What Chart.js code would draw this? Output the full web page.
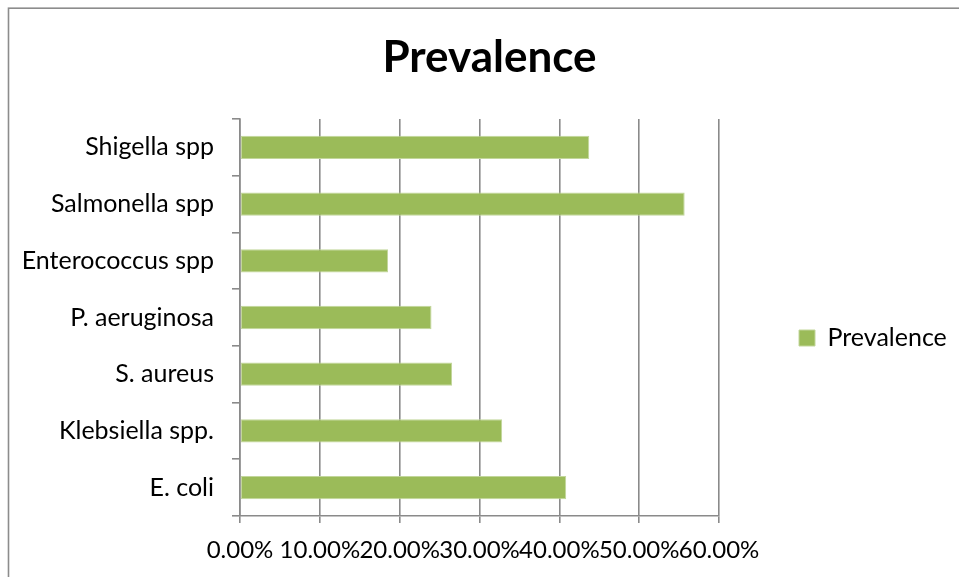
<!DOCTYPE html>
<html>
<head>
<meta charset="utf-8">
<script src="https://cdn.jsdelivr.net/npm/chart.js@4/dist/chart.umd.min.js"></script>
<style>
  html, body { margin: 0; padding: 0; background: #ffffff; overflow: hidden; }
  #chart { display: block; }
</style>
</head>
<body>
<canvas id="chart" width="959" height="577"></canvas>
<script>
// Organisms, listed top to bottom
const categories = [
  'Shigella spp',
  'Salmonella spp',
  'Enterococcus spp',
  'P. aeruginosa',
  'S. aureus',
  'Klebsiella spp.',
  'E. coli'
];

// Prevalence in percent
const prevalence = [43.75, 55.70, 18.55, 23.99, 26.57, 32.84, 40.86];

// Value axis ticks (percent)
const xTicks = [0, 10, 20, 30, 40, 50, 60];

const seriesName = 'Prevalence';
const titleText = 'Prevalence';

const FONT = 'Lato, "Noto Sans", sans-serif';
const GRID = '#8a8a8a';
const BAR = '#9bbb59';

// White page with the frame lines along the top and left edges
const framePlugin = {
  id: 'frame',
  beforeDraw(chart) {
    const ctx = chart.ctx;
    ctx.save();
    ctx.fillStyle = '#ffffff';
    ctx.fillRect(0, 0, chart.width, chart.height);
    ctx.strokeStyle = '#8c8c8c';
    ctx.lineWidth = 1.6;
    ctx.strokeRect(8.5, 8.2, chart.width + 20, chart.height + 20);
    ctx.restore();
  }
};

const chart = new Chart(document.getElementById('chart'), {
  type: 'bar',
  data: {
    labels: categories,
    datasets: [{
      label: seriesName,
      data: prevalence,
      backgroundColor: BAR,
      borderColor: '#c2d69b',
      borderWidth: 1,
      borderSkipped: false,
      barPercentage: 0.41,
      categoryPercentage: 1.0
    }]
  },
  options: {
    indexAxis: 'y',
    responsive: false,
    animation: false,
    devicePixelRatio: 1,
    layout: { padding: { left: 20, right: 0, top: 0, bottom: 0 } },
    scales: {
      x: {
        min: 0,
        max: 60,
        afterBuildTicks(scale) {
          scale.ticks = xTicks.map(v => ({ value: v }));
        },
        afterFit(scale) { scale.height = 61; },
        ticks: {
          autoSkip: false,
          maxRotation: 0,
          minRotation: 0,
          padding: 13,
          color: '#000000',
          font: { family: FONT, size: 24 },
          callback: v => Number(v).toFixed(2) + '%'
        },
        grid: {
          color: GRID,
          lineWidth: 1.6,
          drawTicks: true,
          tickLength: 7,
          tickColor: GRID
        },
        border: { display: true, color: GRID, width: 1.6 }
      },
      y: {
        afterFit(scale) { scale.width = 220; },
        ticks: {
          padding: 18,
          color: '#000000',
          font: { family: FONT, size: 25 }
        },
        grid: {
          display: true,
          drawOnChartArea: false,
          drawTicks: true,
          tickLength: 8,
          offset: true,
          color: GRID,
          tickColor: GRID,
          lineWidth: 1.6
        },
        border: { display: true, color: GRID, width: 1.6 }
      }
    },
    plugins: {
      title: {
        display: true,
        text: titleText,
        color: '#000000',
        font: { family: FONT, size: 44, weight: 'bold', lineHeight: 1 },
        padding: { top: 36, bottom: 39 }
      },
      legend: {
        display: true,
        position: 'right',
        title: { display: true, text: ' ', font: { size: 10, lineHeight: 1 }, padding: { top: 45, bottom: 44 } },
        labels: {
          boxWidth: 16,
          boxHeight: 16,
          padding: 80,
          color: '#000000',
          font: { family: FONT, size: 25 }
        }
      },
      tooltip: { enabled: false }
    }
  },
  plugins: [framePlugin]
});

// Keep the legend column a fixed width so the plot ends at the same place
const baseFit = chart.legend.fit;
chart.legend.fit = function () {
  baseFit.call(this);
  this.width = 240;
};
chart.update();
</script>
</body>
</html>
